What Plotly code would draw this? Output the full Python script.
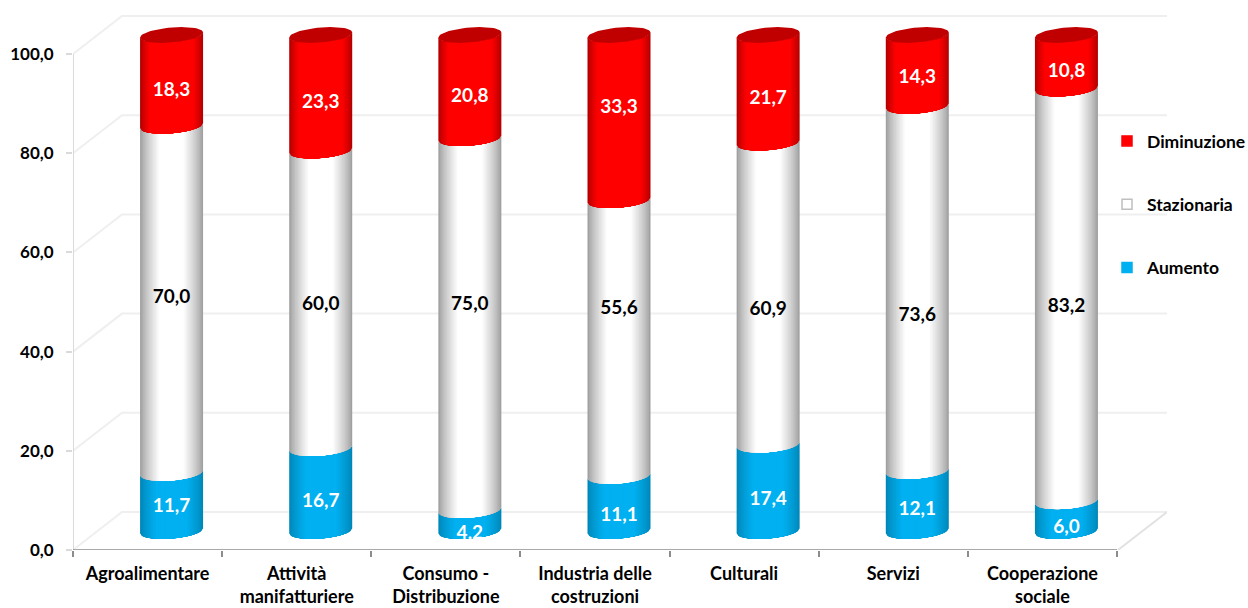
import numpy as np
import plotly.graph_objects as go

categories = ["Agroalimentare", "Attività<br>manifatturiere", "Consumo -<br>Distribuzione",
              "Industria delle<br>costruzioni", "Culturali", "Servizi", "Cooperazione<br>sociale"]
aumento = [11.7, 16.7, 4.2, 11.1, 17.4, 12.1, 6.0]
stazionaria = [70.0, 60.0, 75.0, 55.6, 60.9, 73.6, 83.2]
diminuzione = [18.3, 23.3, 20.8, 33.3, 21.7, 14.3, 10.8]
y_ticks = [0, 20, 40, 60, 80, 100]

# pixels the labels sit below the middle of their segment in the original
nudge_aumento = [5.5, 12.5, 13.5, 12.5, 12.5, 9.5, 12.5]
nudge_stazionaria = [-1.5, 5.5, -18.5, -28.5, 16.5, 27.5, 12.5]
nudge_diminuzione = [11, 10.5, 10.5, -9.5, 10.5, 8, 10.5]

W, H = 1248, 608
PLOT_L, PLOT_R, PLOT_T, Y0_PX = 73, 1167, 14, 550
PX_X = (1117 - 73) / 7
PX_Y = (550 - 54) / 100
x_max = (PLOT_R - PLOT_L) / PX_X - 0.5
y_max = (Y0_PX - PLOT_T) / PX_Y

# cylinder geometry in axis units
CX_OFF = 24 / PX_X
RX = 31.5 / PX_X
BASE = 19 / PX_Y
RY = 7.5 / PX_Y
TILT = 2.5 / PX_Y
WALL_X = 49 / PX_X
WALL_Y = 38 / PX_Y


def mix(c1, c2, t):
    return "rgb(%d,%d,%d)" % tuple(round(a + (b - a) * t) for a, b in zip(c1, c2))


def shade_levels(edge, mid, flat):
    # outermost first, narrower ones are painted over it
    out = []
    for w in np.linspace(1, 0.04, 22):
        t = min(1, max(0, (1 - w) / (1 - flat)))
        out.append((w, mix(edge, mid, t ** 0.8)))
    return out


def front_arc(cx, v, w):
    u = np.linspace(-w, w, 31)
    return cx + RX * u, v + BASE - RY * np.sqrt(1 - u ** 2) + TILT * u


fig = go.Figure()

# walls and floor
gx, gy = [], []
for t in y_ticks:
    gx += [-0.5, -0.5 + WALL_X, x_max, None]
    gy += [t, t + WALL_Y, t + WALL_Y, None]
fig.add_trace(go.Scatter(x=gx, y=gy, mode="lines", line=dict(color="#EFEFEF", width=2),
                         hoverinfo="skip", showlegend=False))
fig.add_trace(go.Scatter(x=[x_max - WALL_X, x_max], y=[0, WALL_Y], mode="lines",
                         line=dict(color="#E2E2E2", width=2), hoverinfo="skip", showlegend=False))
fig.add_trace(go.Scatter(x=[-0.5, -0.5], y=[0, 100], mode="lines",
                         line=dict(color="#DADADA", width=2), hoverinfo="skip", showlegend=False))

aum = np.array(aumento)
sta = np.array(stazionaria)
dim = np.array(diminuzione)
segments = [
    (np.zeros(7), aum, shade_levels((0, 135, 185), (0, 176, 240), 0.5)),
    (aum, aum + sta, shade_levels((160, 160, 160), (255, 255, 255), 0.4)),
    (aum + sta, aum + sta + dim, shade_levels((180, 0, 0), (255, 0, 0), 0.7)),
]

for low, high, levels in segments:
    for w, color in levels:
        xs, ys = [], []
        for i in range(7):
            cx = i + CX_OFF
            bx, by = front_arc(cx, low[i], w)
            tx, ty = front_arc(cx, high[i], w)
            xs += list(bx) + list(tx[::-1]) + [bx[0], None]
            ys += list(by) + list(ty[::-1]) + [by[0], None]
        fig.add_trace(go.Scatter(x=xs, y=ys, mode="lines", fill="toself", fillcolor=color,
                                 line=dict(width=0), hoverinfo="skip", showlegend=False))

# top caps
cap_x, cap_y = [], []
for i in range(7):
    t = np.linspace(0, 2 * np.pi, 61)
    cap_x += list(i + CX_OFF + RX * np.cos(t)) + [None]
    cap_y += list(100 + BASE + RY * np.sin(t) + TILT * np.cos(t)) + [None]
fig.add_trace(go.Scatter(x=cap_x, y=cap_y, mode="lines", fill="toself", fillcolor="#C00000",
                         line=dict(width=0), hoverinfo="skip", showlegend=False))

# data labels
label_sets = [
    (aum, np.zeros(7), nudge_aumento, "white"),
    (sta, aum, nudge_stazionaria, "black"),
    (dim, aum + sta, nudge_diminuzione, "white"),
]
for vals, low, nudge, color in label_sets:
    fig.add_trace(go.Scatter(
        x=[i + CX_OFF for i in range(7)],
        y=low + vals / 2 + BASE - np.array(nudge) / PX_Y,
        mode="text",
        text=[f"{v:.1f}".replace(".", ",") for v in vals],
        textposition="middle center",
        textfont=dict(family="Lato", size=19, color=color, weight=700),
        hoverinfo="skip", showlegend=False))

# legend
legend_items = [("Diminuzione", "#FF0000", "#FF0000"),
                ("Stazionaria", "#FFFFFF", "#BFBFBF"),
                ("Aumento", "#00B0F0", "#00B0F0")]
for name, color, edge in legend_items:
    fig.add_trace(go.Scatter(x=[None], y=[None], mode="markers", name=name, legendgroup=name,
                             marker=dict(symbol="square", size=10, color=color,
                                         line=dict(color=edge, width=1.5))))

fig.add_shape(type="line", x0=-0.5, x1=6.5, y0=0, y1=0, line=dict(color="#8C8C8C", width=1.5))

fig.update_layout(
    width=W, height=H, autosize=False,
    paper_bgcolor="white", plot_bgcolor="white",
    margin=dict(l=PLOT_L, r=W - PLOT_R, t=PLOT_T, b=H - Y0_PX, autoexpand=False),
    font=dict(family="Lato", size=17, color="black", weight=700),
    separators=",.",
    legend=dict(x=(1107 - PLOT_L) / (PLOT_R - PLOT_L), y=(550 - 123) / (550 - 14),
                xanchor="left", yanchor="top", bgcolor="rgba(0,0,0,0)",
                tracegroupgap=37.5, itemwidth=30,
                font=dict(family="Lato", size=17.5, color="black", weight=700)),
    xaxis=dict(range=[-0.5, x_max], tickmode="array", tickvals=list(range(7)), ticktext=categories,
               ticks="", showgrid=False, zeroline=False, showline=False, ticklabelstandoff=11,
               automargin=False,
               tickfont=dict(family="Lato", size=18, color="black", weight=700),
               minor=dict(tickmode="array", tickvals=[i - 0.5 for i in range(8)], ticks="outside",
                          ticklen=6, tickcolor="#8C8C8C", tickwidth=1.5, showgrid=False)),
    yaxis=dict(range=[0, y_max], tickmode="array", tickvals=y_ticks, tickformat=".1f",
               ticks="outside", ticklen=6, tickcolor="#DADADA", tickwidth=2, showgrid=False,
               zeroline=False, showline=False, ticklabelstandoff=9, automargin=False,
               tickfont=dict(family="Lato", size=17, color="black", weight=700)),
)

# page default margin would push the 1248x608 figure out of the window
fig.write_html("out.html", config=dict(displayModeBar=False),
               post_script="document.body.style.margin='0';document.documentElement.style.overflow='hidden';")
